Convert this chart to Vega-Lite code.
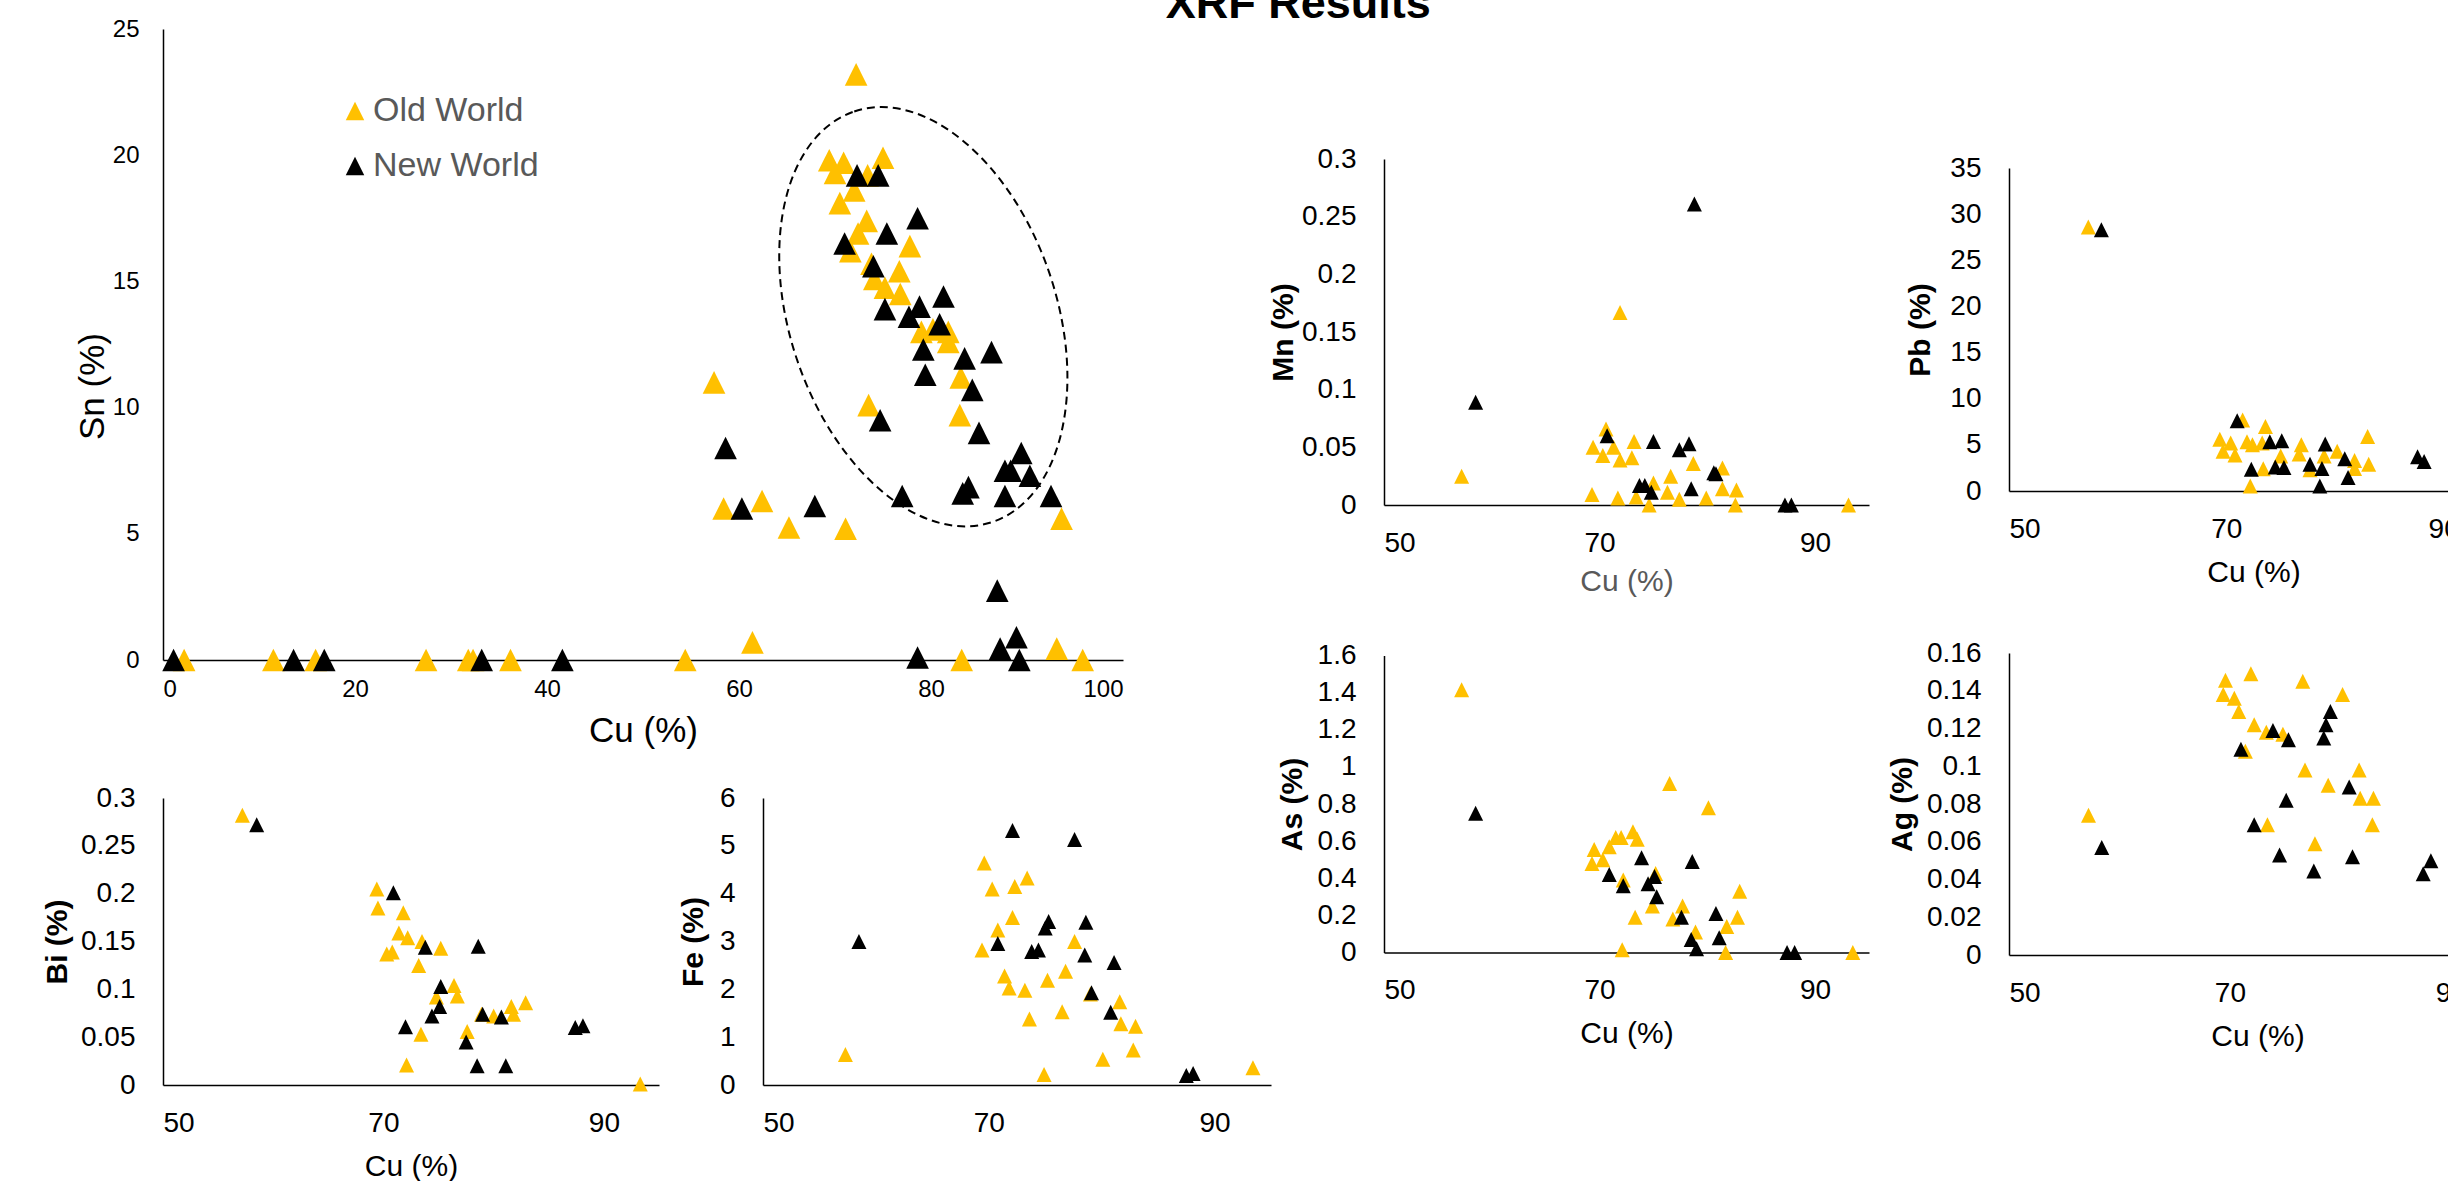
{
  "$schema": "https://vega.github.io/schema/vega-lite/v6.json",
  "padding": {"left": 42, "top": -18, "right": 0, "bottom": 0},
  "background": "white",
  "title": {"text": "XRF Results", "anchor": "middle", "frame": "bounds", "fontSize": 45, "font": "Liberation Sans", "fontWeight": "bold", "color": "black", "offset": -10, "dx": 24},
  "config": {
    "view": {"stroke": null},
    "font": "Liberation Sans",
    "axis": {"grid": false, "ticks": false, "domainColor": "black", "domainWidth": 1.5, "labelColor": "black", "titleColor": "black", "labelFont": "Liberation Sans", "titleFont": "Liberation Sans"},
    "axisY": {"labelPadding": 28, "labelFontSize": 28, "titleFontSize": 30, "titleFontWeight": "bold", "titlePadding": 9, "format": "~g"},
    "axisX": {"labelPadding": 24, "labelFontSize": 28, "titleFontSize": 30, "titleFontWeight": "normal", "titlePadding": 14},
    "point": {"shape": "M0,-1L1,1L-1,1Z", "filled": true, "opacity": 1, "strokeWidth": 0, "size": 225}
  },
  "datasets": {
    "main": [
      {"Cu": 2.2, "Sn": 0, "World": "Old World"}, {"Cu": 11.5, "Sn": 0, "World": "Old World"}, {"Cu": 15.9, "Sn": 0, "World": "Old World"}, {"Cu": 27.4, "Sn": 0, "World": "Old World"}, {"Cu": 31.8, "Sn": 0, "World": "Old World"}, {"Cu": 32.3, "Sn": 0, "World": "Old World"}, {"Cu": 36.2, "Sn": 0, "World": "Old World"}, {"Cu": 54.4, "Sn": 0, "World": "Old World"}, {"Cu": 61.4, "Sn": 0.7, "World": "Old World"}, {"Cu": 83.2, "Sn": 0, "World": "Old World"}, {"Cu": 93.1, "Sn": 0.45, "World": "Old World"}, {"Cu": 95.8, "Sn": 0, "World": "Old World"},
      {"Cu": 57.4, "Sn": 11.0, "World": "Old World"}, {"Cu": 58.4, "Sn": 6.0, "World": "Old World"}, {"Cu": 62.4, "Sn": 6.3, "World": "Old World"}, {"Cu": 65.2, "Sn": 5.25, "World": "Old World"}, {"Cu": 71.1, "Sn": 5.2, "World": "Old World"}, {"Cu": 73.5, "Sn": 10.1, "World": "Old World"}, {"Cu": 83.0, "Sn": 9.7, "World": "Old World"}, {"Cu": 83.1, "Sn": 11.2, "World": "Old World"}, {"Cu": 93.6, "Sn": 5.6, "World": "Old World"},
      {"Cu": 72.2, "Sn": 23.2, "World": "Old World"}, {"Cu": 69.4, "Sn": 19.8, "World": "Old World"}, {"Cu": 70.9, "Sn": 19.7, "World": "Old World"}, {"Cu": 70.0, "Sn": 19.3, "World": "Old World"}, {"Cu": 75.0, "Sn": 19.9, "World": "Old World"}, {"Cu": 73.4, "Sn": 19.2, "World": "Old World"}, {"Cu": 72.0, "Sn": 18.6, "World": "Old World"}, {"Cu": 70.5, "Sn": 18.1, "World": "Old World"}, {"Cu": 73.3, "Sn": 17.4, "World": "Old World"}, {"Cu": 72.4, "Sn": 16.9, "World": "Old World"}, {"Cu": 71.6, "Sn": 16.2, "World": "Old World"}, {"Cu": 77.8, "Sn": 16.4, "World": "Old World"}, {"Cu": 73.8, "Sn": 15.7, "World": "Old World"}, {"Cu": 76.7, "Sn": 15.4, "World": "Old World"}, {"Cu": 74.1, "Sn": 15.1, "World": "Old World"}, {"Cu": 75.2, "Sn": 14.75, "World": "Old World"}, {"Cu": 76.8, "Sn": 14.5, "World": "Old World"}, {"Cu": 79.0, "Sn": 13.0, "World": "Old World"}, {"Cu": 80.2, "Sn": 13.1, "World": "Old World"}, {"Cu": 81.8, "Sn": 13.0, "World": "Old World"}, {"Cu": 81.8, "Sn": 12.6, "World": "Old World"},
      {"Cu": 1.1, "Sn": 0, "World": "New World"}, {"Cu": 13.6, "Sn": 0, "World": "New World"}, {"Cu": 16.8, "Sn": 0, "World": "New World"}, {"Cu": 33.2, "Sn": 0, "World": "New World"}, {"Cu": 41.6, "Sn": 0, "World": "New World"}, {"Cu": 78.6, "Sn": 0.1, "World": "New World"}, {"Cu": 86.9, "Sn": 2.75, "World": "New World"}, {"Cu": 87.2, "Sn": 0.45, "World": "New World"}, {"Cu": 88.9, "Sn": 0.9, "World": "New World"}, {"Cu": 89.2, "Sn": 0, "World": "New World"},
      {"Cu": 58.6, "Sn": 8.4, "World": "New World"}, {"Cu": 60.3, "Sn": 6.0, "World": "New World"}, {"Cu": 67.9, "Sn": 6.1, "World": "New World"}, {"Cu": 74.7, "Sn": 9.5, "World": "New World"}, {"Cu": 77.0, "Sn": 6.5, "World": "New World"}, {"Cu": 83.3, "Sn": 6.6, "World": "New World"}, {"Cu": 83.9, "Sn": 6.85, "World": "New World"}, {"Cu": 85.0, "Sn": 9.0, "World": "New World"}, {"Cu": 87.7, "Sn": 6.5, "World": "New World"}, {"Cu": 87.7, "Sn": 7.5, "World": "New World"}, {"Cu": 88.3, "Sn": 7.5, "World": "New World"}, {"Cu": 89.4, "Sn": 8.2, "World": "New World"}, {"Cu": 90.3, "Sn": 7.3, "World": "New World"}, {"Cu": 92.5, "Sn": 6.5, "World": "New World"},
      {"Cu": 72.3, "Sn": 19.2, "World": "New World"}, {"Cu": 74.5, "Sn": 19.2, "World": "New World"}, {"Cu": 78.6, "Sn": 17.5, "World": "New World"}, {"Cu": 75.4, "Sn": 16.9, "World": "New World"}, {"Cu": 71.0, "Sn": 16.5, "World": "New World"}, {"Cu": 74.0, "Sn": 15.6, "World": "New World"}, {"Cu": 81.3, "Sn": 14.4, "World": "New World"}, {"Cu": 75.2, "Sn": 13.9, "World": "New World"}, {"Cu": 78.8, "Sn": 14.0, "World": "New World"}, {"Cu": 77.7, "Sn": 13.6, "World": "New World"}, {"Cu": 80.9, "Sn": 13.3, "World": "New World"}, {"Cu": 79.2, "Sn": 12.3, "World": "New World"}, {"Cu": 83.5, "Sn": 11.95, "World": "New World"}, {"Cu": 86.3, "Sn": 12.2, "World": "New World"}, {"Cu": 79.4, "Sn": 11.3, "World": "New World"}, {"Cu": 84.3, "Sn": 10.7, "World": "New World"}
    ],
    "cluster": [{"Cu": 79.2, "Sn": 13.6}],
    "bi": [
      {"Cu": 57.2, "v": 0.282, "World": "Old World"}, {"Cu": 69.4, "v": 0.205, "World": "Old World"}, {"Cu": 69.5, "v": 0.185, "World": "Old World"}, {"Cu": 71.8, "v": 0.180, "World": "Old World"}, {"Cu": 71.4, "v": 0.159, "World": "Old World"}, {"Cu": 72.2, "v": 0.154, "World": "Old World"}, {"Cu": 73.5, "v": 0.150, "World": "Old World"}, {"Cu": 75.2, "v": 0.143, "World": "Old World"}, {"Cu": 70.3, "v": 0.137, "World": "Old World"}, {"Cu": 70.8, "v": 0.139, "World": "Old World"}, {"Cu": 73.2, "v": 0.125, "World": "Old World"}, {"Cu": 76.4, "v": 0.104, "World": "Old World"}, {"Cu": 76.7, "v": 0.093, "World": "Old World"}, {"Cu": 74.8, "v": 0.092, "World": "Old World"}, {"Cu": 81.6, "v": 0.082, "World": "Old World"}, {"Cu": 82.9, "v": 0.086, "World": "Old World"}, {"Cu": 80.0, "v": 0.072, "World": "Old World"}, {"Cu": 78.9, "v": 0.074, "World": "Old World"}, {"Cu": 81.8, "v": 0.074, "World": "Old World"}, {"Cu": 73.4, "v": 0.053, "World": "Old World"}, {"Cu": 77.6, "v": 0.056, "World": "Old World"}, {"Cu": 72.1, "v": 0.021, "World": "Old World"}, {"Cu": 93.3, "v": 0.001, "World": "Old World"},
      {"Cu": 58.5, "v": 0.272, "World": "New World"}, {"Cu": 70.9, "v": 0.201, "World": "New World"}, {"Cu": 73.8, "v": 0.144, "World": "New World"}, {"Cu": 78.6, "v": 0.145, "World": "New World"}, {"Cu": 75.2, "v": 0.103, "World": "New World"}, {"Cu": 75.1, "v": 0.082, "World": "New World"}, {"Cu": 74.4, "v": 0.072, "World": "New World"}, {"Cu": 79.0, "v": 0.074, "World": "New World"}, {"Cu": 80.7, "v": 0.071, "World": "New World"}, {"Cu": 72.0, "v": 0.061, "World": "New World"}, {"Cu": 77.5, "v": 0.045, "World": "New World"}, {"Cu": 87.4, "v": 0.060, "World": "New World"}, {"Cu": 88.1, "v": 0.062, "World": "New World"}, {"Cu": 78.5, "v": 0.020, "World": "New World"}, {"Cu": 81.1, "v": 0.020, "World": "New World"}
    ],
    "fe": [
      {"Cu": 69.6, "v": 4.64, "World": "Old World"}, {"Cu": 73.4, "v": 4.33, "World": "Old World"}, {"Cu": 70.3, "v": 4.10, "World": "Old World"}, {"Cu": 72.3, "v": 4.15, "World": "Old World"}, {"Cu": 72.1, "v": 3.50, "World": "Old World"}, {"Cu": 70.8, "v": 3.24, "World": "Old World"}, {"Cu": 77.6, "v": 3.0, "World": "Old World"}, {"Cu": 69.4, "v": 2.82, "World": "Old World"}, {"Cu": 76.8, "v": 2.38, "World": "Old World"}, {"Cu": 71.4, "v": 2.28, "World": "Old World"}, {"Cu": 75.2, "v": 2.19, "World": "Old World"}, {"Cu": 71.8, "v": 2.03, "World": "Old World"}, {"Cu": 73.2, "v": 1.98, "World": "Old World"}, {"Cu": 79.0, "v": 1.90, "World": "Old World"}, {"Cu": 81.6, "v": 1.74, "World": "Old World"}, {"Cu": 76.5, "v": 1.53, "World": "Old World"}, {"Cu": 73.6, "v": 1.38, "World": "Old World"}, {"Cu": 81.7, "v": 1.28, "World": "Old World"}, {"Cu": 83.0, "v": 1.23, "World": "Old World"}, {"Cu": 82.8, "v": 0.73, "World": "Old World"}, {"Cu": 80.1, "v": 0.54, "World": "Old World"}, {"Cu": 57.3, "v": 0.64, "World": "Old World"}, {"Cu": 74.9, "v": 0.22, "World": "Old World"}, {"Cu": 93.4, "v": 0.36, "World": "Old World"},
      {"Cu": 72.1, "v": 5.32, "World": "New World"}, {"Cu": 77.6, "v": 5.13, "World": "New World"}, {"Cu": 75.3, "v": 3.42, "World": "New World"}, {"Cu": 75.0, "v": 3.28, "World": "New World"}, {"Cu": 78.6, "v": 3.40, "World": "New World"}, {"Cu": 58.5, "v": 3.0, "World": "New World"}, {"Cu": 70.8, "v": 2.96, "World": "New World"}, {"Cu": 73.8, "v": 2.79, "World": "New World"}, {"Cu": 74.4, "v": 2.82, "World": "New World"}, {"Cu": 78.5, "v": 2.72, "World": "New World"}, {"Cu": 81.1, "v": 2.56, "World": "New World"}, {"Cu": 79.1, "v": 1.93, "World": "New World"}, {"Cu": 80.8, "v": 1.52, "World": "New World"}, {"Cu": 87.5, "v": 0.20, "World": "New World"}, {"Cu": 88.1, "v": 0.24, "World": "New World"}
    ],
    "mn": [
      {"Cu": 71.9, "v": 0.167, "World": "Old World"}, {"Cu": 57.2, "v": 0.025, "World": "Old World"}, {"Cu": 70.6, "v": 0.066, "World": "Old World"}, {"Cu": 69.4, "v": 0.050, "World": "Old World"}, {"Cu": 71.3, "v": 0.050, "World": "Old World"}, {"Cu": 73.2, "v": 0.055, "World": "Old World"}, {"Cu": 70.3, "v": 0.043, "World": "Old World"}, {"Cu": 71.9, "v": 0.039, "World": "Old World"}, {"Cu": 73.0, "v": 0.041, "World": "Old World"}, {"Cu": 78.7, "v": 0.036, "World": "Old World"}, {"Cu": 81.4, "v": 0.032, "World": "Old World"}, {"Cu": 76.6, "v": 0.025, "World": "Old World"}, {"Cu": 75.0, "v": 0.019, "World": "Old World"}, {"Cu": 76.3, "v": 0.011, "World": "Old World"}, {"Cu": 81.4, "v": 0.014, "World": "Old World"}, {"Cu": 82.7, "v": 0.013, "World": "Old World"}, {"Cu": 69.3, "v": 0.009, "World": "Old World"}, {"Cu": 71.7, "v": 0.006, "World": "Old World"}, {"Cu": 73.4, "v": 0.007, "World": "Old World"}, {"Cu": 77.4, "v": 0.005, "World": "Old World"}, {"Cu": 79.9, "v": 0.006, "World": "Old World"}, {"Cu": 74.6, "v": 0.0, "World": "Old World"}, {"Cu": 82.6, "v": 0.0, "World": "Old World"}, {"Cu": 93.1, "v": 0.0, "World": "Old World"},
      {"Cu": 78.8, "v": 0.261, "World": "New World"}, {"Cu": 58.5, "v": 0.089, "World": "New World"}, {"Cu": 70.7, "v": 0.060, "World": "New World"}, {"Cu": 75.0, "v": 0.055, "World": "New World"}, {"Cu": 77.4, "v": 0.048, "World": "New World"}, {"Cu": 78.3, "v": 0.053, "World": "New World"}, {"Cu": 80.6, "v": 0.028, "World": "New World"}, {"Cu": 80.8, "v": 0.027, "World": "New World"}, {"Cu": 73.7, "v": 0.017, "World": "New World"}, {"Cu": 74.2, "v": 0.017, "World": "New World"}, {"Cu": 74.8, "v": 0.011, "World": "New World"}, {"Cu": 78.5, "v": 0.014, "World": "New World"}, {"Cu": 87.2, "v": 0.0, "World": "New World"}, {"Cu": 87.8, "v": 0.0, "World": "New World"}
    ],
    "pb": [
      {"Cu": 57.3, "v": 28.6, "World": "Old World"}, {"Cu": 71.5, "v": 7.7, "World": "Old World"}, {"Cu": 73.6, "v": 7.0, "World": "Old World"}, {"Cu": 69.4, "v": 5.6, "World": "Old World"}, {"Cu": 70.4, "v": 5.2, "World": "Old World"}, {"Cu": 71.9, "v": 5.35, "World": "Old World"}, {"Cu": 72.4, "v": 5.0, "World": "Old World"}, {"Cu": 73.3, "v": 5.2, "World": "Old World"}, {"Cu": 76.9, "v": 5.0, "World": "Old World"}, {"Cu": 83.0, "v": 5.9, "World": "Old World"}, {"Cu": 69.7, "v": 4.3, "World": "Old World"}, {"Cu": 70.8, "v": 3.9, "World": "Old World"}, {"Cu": 75.0, "v": 3.8, "World": "Old World"}, {"Cu": 76.7, "v": 4.0, "World": "Old World"}, {"Cu": 79.0, "v": 3.8, "World": "Old World"}, {"Cu": 80.2, "v": 4.3, "World": "Old World"}, {"Cu": 81.8, "v": 3.3, "World": "Old World"}, {"Cu": 83.1, "v": 2.9, "World": "Old World"}, {"Cu": 73.4, "v": 2.4, "World": "Old World"}, {"Cu": 77.7, "v": 2.3, "World": "Old World"}, {"Cu": 81.8, "v": 2.45, "World": "Old World"}, {"Cu": 72.2, "v": 0.55, "World": "Old World"}, {"Cu": 93.2, "v": 0.4, "World": "Old World"},
      {"Cu": 58.5, "v": 28.3, "World": "New World"}, {"Cu": 71.0, "v": 7.6, "World": "New World"}, {"Cu": 74.0, "v": 5.35, "World": "New World"}, {"Cu": 75.1, "v": 5.45, "World": "New World"}, {"Cu": 79.1, "v": 5.1, "World": "New World"}, {"Cu": 80.9, "v": 3.5, "World": "New World"}, {"Cu": 77.7, "v": 2.9, "World": "New World"}, {"Cu": 72.3, "v": 2.35, "World": "New World"}, {"Cu": 74.5, "v": 2.6, "World": "New World"}, {"Cu": 75.3, "v": 2.55, "World": "New World"}, {"Cu": 78.8, "v": 2.45, "World": "New World"}, {"Cu": 81.2, "v": 1.45, "World": "New World"}, {"Cu": 78.6, "v": 0.55, "World": "New World"}, {"Cu": 87.6, "v": 3.7, "World": "New World"}, {"Cu": 88.2, "v": 3.2, "World": "New World"}
    ],
    "as": [
      {"Cu": 57.2, "v": 1.416, "World": "Old World"}, {"Cu": 76.5, "v": 0.91, "World": "Old World"}, {"Cu": 80.1, "v": 0.78, "World": "Old World"}, {"Cu": 73.1, "v": 0.65, "World": "Old World"}, {"Cu": 71.5, "v": 0.62, "World": "Old World"}, {"Cu": 72.0, "v": 0.62, "World": "Old World"}, {"Cu": 73.5, "v": 0.61, "World": "Old World"}, {"Cu": 70.9, "v": 0.57, "World": "Old World"}, {"Cu": 69.5, "v": 0.555, "World": "Old World"}, {"Cu": 70.3, "v": 0.50, "World": "Old World"}, {"Cu": 69.3, "v": 0.48, "World": "Old World"}, {"Cu": 75.2, "v": 0.425, "World": "Old World"}, {"Cu": 72.2, "v": 0.39, "World": "Old World"}, {"Cu": 83.0, "v": 0.33, "World": "Old World"}, {"Cu": 74.9, "v": 0.25, "World": "Old World"}, {"Cu": 77.7, "v": 0.25, "World": "Old World"}, {"Cu": 73.3, "v": 0.19, "World": "Old World"}, {"Cu": 76.8, "v": 0.18, "World": "Old World"}, {"Cu": 82.8, "v": 0.19, "World": "Old World"}, {"Cu": 81.8, "v": 0.14, "World": "Old World"}, {"Cu": 78.9, "v": 0.11, "World": "Old World"}, {"Cu": 72.1, "v": 0.015, "World": "Old World"}, {"Cu": 81.7, "v": 0.0, "World": "Old World"}, {"Cu": 93.5, "v": 0.0, "World": "Old World"},
      {"Cu": 58.5, "v": 0.75, "World": "New World"}, {"Cu": 73.9, "v": 0.51, "World": "New World"}, {"Cu": 78.6, "v": 0.49, "World": "New World"}, {"Cu": 70.9, "v": 0.42, "World": "New World"}, {"Cu": 75.1, "v": 0.41, "World": "New World"}, {"Cu": 74.5, "v": 0.37, "World": "New World"}, {"Cu": 72.2, "v": 0.36, "World": "New World"}, {"Cu": 75.3, "v": 0.30, "World": "New World"}, {"Cu": 77.6, "v": 0.19, "World": "New World"}, {"Cu": 80.8, "v": 0.21, "World": "New World"}, {"Cu": 78.5, "v": 0.07, "World": "New World"}, {"Cu": 81.1, "v": 0.08, "World": "New World"}, {"Cu": 79.0, "v": 0.02, "World": "New World"}, {"Cu": 87.4, "v": 0.0, "World": "New World"}, {"Cu": 88.1, "v": 0.0, "World": "New World"}
    ],
    "ag": [
      {"Cu": 71.9, "v": 0.149, "World": "Old World"}, {"Cu": 69.6, "v": 0.1455, "World": "Old World"}, {"Cu": 76.6, "v": 0.145, "World": "Old World"}, {"Cu": 69.4, "v": 0.138, "World": "Old World"}, {"Cu": 70.4, "v": 0.136, "World": "Old World"}, {"Cu": 80.2, "v": 0.138, "World": "Old World"}, {"Cu": 70.8, "v": 0.129, "World": "Old World"}, {"Cu": 72.2, "v": 0.122, "World": "Old World"}, {"Cu": 73.3, "v": 0.118, "World": "Old World"}, {"Cu": 74.8, "v": 0.117, "World": "Old World"}, {"Cu": 71.4, "v": 0.108, "World": "Old World"}, {"Cu": 76.8, "v": 0.098, "World": "Old World"}, {"Cu": 81.7, "v": 0.098, "World": "Old World"}, {"Cu": 78.9, "v": 0.090, "World": "Old World"}, {"Cu": 81.8, "v": 0.083, "World": "Old World"}, {"Cu": 83.0, "v": 0.083, "World": "Old World"}, {"Cu": 57.2, "v": 0.074, "World": "Old World"}, {"Cu": 73.4, "v": 0.069, "World": "Old World"}, {"Cu": 82.9, "v": 0.069, "World": "Old World"}, {"Cu": 77.7, "v": 0.059, "World": "Old World"},
      {"Cu": 79.1, "v": 0.129, "World": "New World"}, {"Cu": 78.7, "v": 0.122, "World": "New World"}, {"Cu": 73.9, "v": 0.119, "World": "New World"}, {"Cu": 75.3, "v": 0.114, "World": "New World"}, {"Cu": 78.5, "v": 0.115, "World": "New World"}, {"Cu": 71.0, "v": 0.109, "World": "New World"}, {"Cu": 80.8, "v": 0.089, "World": "New World"}, {"Cu": 75.1, "v": 0.082, "World": "New World"}, {"Cu": 72.2, "v": 0.069, "World": "New World"}, {"Cu": 58.4, "v": 0.057, "World": "New World"}, {"Cu": 74.5, "v": 0.053, "World": "New World"}, {"Cu": 81.1, "v": 0.052, "World": "New World"}, {"Cu": 77.6, "v": 0.0445, "World": "New World"}, {"Cu": 87.5, "v": 0.043, "World": "New World"}, {"Cu": 88.2, "v": 0.050, "World": "New World"}
    ]
  },
  "spacing": -3,
  "center": true,
  "resolve": {"scale": {"color": "independent"}, "legend": {"color": "independent"}},
  "hconcat": [
    {
      "spacing": 36,
      "resolve": {"scale": {"color": "independent"}, "legend": {"color": "independent"}},
      "vconcat": [
        {
          "width": 960, "height": 631,
          "layer": [
            {
              "data": {"name": "cluster"},
              "mark": {"type": "point", "shape": "M-0.319,-0.948A1,0.616,71.4,1,1,0.319,0.948A1,0.616,71.4,1,1,-0.319,-0.948Z", "size": 187489, "filled": false, "stroke": "black", "strokeWidth": 2, "strokeDash": [8, 5], "opacity": 1},
              "encoding": {
                "x": {"field": "Cu", "type": "quantitative"},
                "y": {"field": "Sn", "type": "quantitative"}
              }
            },
            {
              "data": {"name": "main"},
              "mark": {"type": "point", "size": 512},
              "encoding": {
                "x": {"field": "Cu", "type": "quantitative", "scale": {"domain": [0, 100], "nice": false}, "axis": {"values": [0, 20, 40, 60, 80, 100], "title": "Cu (%)", "labelFontSize": 24, "labelPadding": 17, "titleFontSize": 35, "titlePadding": 12}},
                "y": {"field": "Sn", "type": "quantitative", "scale": {"domain": [0, 25], "nice": false}, "axis": {"values": [0, 5, 10, 15, 20, 25], "title": "Sn (%)", "labelFontSize": 24, "labelPadding": 24, "titleFontSize": 35, "titleFontWeight": "normal", "titlePadding": 2, "titleY": 357}},
                "color": {"field": "World", "type": "nominal", "scale": {"domain": ["Old World", "New World"], "range": ["#FFC000", "#000000"]},
                  "legend": {"orient": "none", "legendX": 175, "legendY": 65, "title": null, "labelFontSize": 34, "labelColor": "#595959", "labelFont": "Liberation Sans", "labelLimit": 600, "symbolSize": 340, "symbolType": "M0,-1L1,1L-1,1Z", "rowPadding": 21, "labelOffset": 1, "padding": 0, "symbolStrokeWidth": 0}}
              }
            }
          ]
        },
        {
          "spacing": 19,
          "hconcat": [
            {
              "width": 496, "height": 287,
              "data": {"name": "bi"},
              "mark": {"type": "point"},
              "encoding": {
                "x": {"field": "Cu", "type": "quantitative", "scale": {"domain": [50, 95], "nice": false, "zero": false}, "axis": {"values": [50, 70, 90], "title": "Cu (%)"}},
                "y": {"field": "v", "type": "quantitative", "scale": {"domain": [0, 0.3], "nice": false}, "axis": {"values": [0, 0.05, 0.1, 0.15, 0.2, 0.25, 0.3], "title": "Bi (%)", "titlePadding": 8}},
                "color": {"field": "World", "type": "nominal", "scale": {"domain": ["Old World", "New World"], "range": ["#FFC000", "#000000"]}, "legend": null}
              }
            },
            {
              "width": 508, "height": 287,
              "data": {"name": "fe"},
              "mark": {"type": "point"},
              "encoding": {
                "x": {"field": "Cu", "type": "quantitative", "scale": {"domain": [50, 95], "nice": false, "zero": false}, "axis": {"values": [50, 70, 90], "title": null}},
                "y": {"field": "v", "type": "quantitative", "scale": {"domain": [0, 6], "nice": false}, "axis": {"values": [0, 1, 2, 3, 4, 5, 6], "title": "Fe (%)", "titlePadding": 11}},
                "color": {"field": "World", "type": "nominal", "scale": {"domain": ["Old World", "New World"], "range": ["#FFC000", "#000000"]}, "legend": null}
              }
            }
          ]
        }
      ]
    },
    {
      "spacing": 43,
      "vconcat": [
        {
          "spacing": 36,
          "center": true,
          "hconcat": [
            {
              "width": 485, "height": 346,
              "data": {"name": "mn"},
              "mark": {"type": "point"},
              "encoding": {
                "x": {"field": "Cu", "type": "quantitative", "scale": {"domain": [50, 95], "nice": false, "zero": false}, "axis": {"values": [50, 70, 90], "title": "Cu (%)", "titleColor": "#595959", "titlePadding": 9}},
                "y": {"field": "v", "type": "quantitative", "scale": {"domain": [0, 0.3], "nice": false}, "axis": {"values": [0, 0.05, 0.1, 0.15, 0.2, 0.25, 0.3], "title": "Mn (%)", "titlePadding": 3}},
                "color": {"field": "World", "type": "nominal", "scale": {"domain": ["Old World", "New World"], "range": ["#FFC000", "#000000"]}, "legend": null}
              }
            },
            {
              "width": 489, "height": 323,
              "data": {"name": "pb"},
              "mark": {"type": "point"},
              "encoding": {
                "x": {"field": "Cu", "type": "quantitative", "scale": {"domain": [50, 95], "nice": false, "zero": false}, "axis": {"values": [50, 70, 90], "title": "Cu (%)"}},
                "y": {"field": "v", "type": "quantitative", "scale": {"domain": [0, 35], "nice": false}, "axis": {"values": [0, 5, 10, 15, 20, 25, 30, 35], "title": "Pb (%)", "titlePadding": 14}},
                "color": {"field": "World", "type": "nominal", "scale": {"domain": ["Old World", "New World"], "range": ["#FFC000", "#000000"]}, "legend": null}
              }
            }
          ]
        },
        {
          "spacing": 18,
          "center": true,
          "hconcat": [
            {
              "width": 485, "height": 297,
              "data": {"name": "as"},
              "mark": {"type": "point"},
              "encoding": {
                "x": {"field": "Cu", "type": "quantitative", "scale": {"domain": [50, 95], "nice": false, "zero": false}, "axis": {"values": [50, 70, 90], "title": "Cu (%)"}},
                "y": {"field": "v", "type": "quantitative", "scale": {"domain": [0, 1.6], "nice": false}, "axis": {"values": [0, 0.2, 0.4, 0.6, 0.8, 1, 1.2, 1.4, 1.6], "title": "As (%)", "titlePadding": 10}},
                "color": {"field": "World", "type": "nominal", "scale": {"domain": ["Old World", "New World"], "range": ["#FFC000", "#000000"]}, "legend": null}
              }
            },
            {
              "width": 497, "height": 302,
              "data": {"name": "ag"},
              "mark": {"type": "point"},
              "encoding": {
                "x": {"field": "Cu", "type": "quantitative", "scale": {"domain": [50, 95], "nice": false, "zero": false}, "axis": {"values": [50, 70, 90], "title": "Cu (%)"}},
                "y": {"field": "v", "type": "quantitative", "scale": {"domain": [0, 0.16], "nice": false}, "axis": {"values": [0, 0.02, 0.04, 0.06, 0.08, 0.1, 0.12, 0.14, 0.16], "title": "Ag (%)", "titlePadding": 9}},
                "color": {"field": "World", "type": "nominal", "scale": {"domain": ["Old World", "New World"], "range": ["#FFC000", "#000000"]}, "legend": null}
              }
            }
          ]
        }
      ]
    }
  ]
}
